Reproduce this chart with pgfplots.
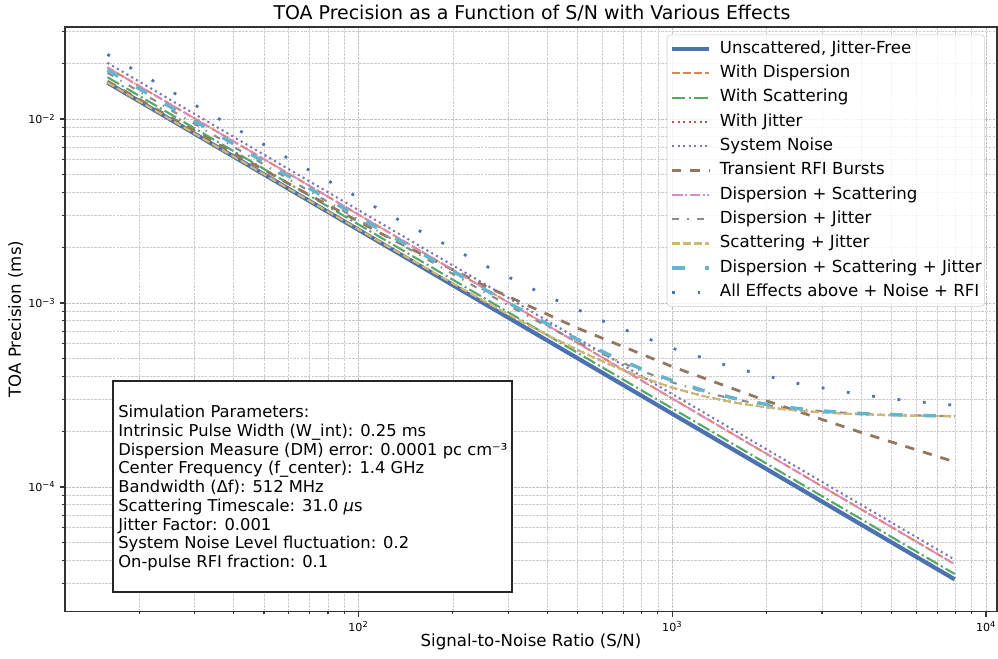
\documentclass[border=0pt]{standalone}
\usepackage{fontspec}
\setmainfont{DejaVu Sans}
\usepackage{pgfplots}
\pgfplotsset{compat=1.18}
\definecolor{c0}{HTML}{4C72B0}
\definecolor{c1}{HTML}{DD8452}
\definecolor{c2}{HTML}{55A868}
\definecolor{c3}{HTML}{C44E52}
\definecolor{c4}{HTML}{8172B3}
\definecolor{c5}{HTML}{937860}
\definecolor{c6}{HTML}{DA8BC3}
\definecolor{c7}{HTML}{8C8C8C}
\definecolor{c8}{HTML}{CCB974}
\definecolor{c9}{HTML}{64B5CD}
\begin{document}
\begin{tikzpicture}
\useasboundingbox (-46.8bp,-34.06bp) rectangle (671.76bp,440.42bp);
\begin{axis}[
 at={(0bp,0bp)}, anchor=south west, scale only axis,
 width=671.04bp, height=420.98bp,
 xmode=log, ymode=log,
 xmin=11.61, xmax=10839, ymin=2.099e-5, ymax=3.1623e-2,
 xtick={100,1000,10000},
 xticklabels={10\textsuperscript{2},10\textsuperscript{3},10\textsuperscript{4}},
 ytick={1e-4,1e-3,1e-2},
 yticklabels={10\textsuperscript{−4},10\textsuperscript{−3},10\textsuperscript{−2}},
 minor xtick={20,30,40,50,60,70,80,90,200,300,400,500,600,700,800,900,2000,3000,4000,5000,6000,7000,8000,9000},
 minor ytick={3e-5,4e-5,5e-5,6e-5,7e-5,8e-5,9e-5,2e-4,3e-4,4e-4,5e-4,6e-4,7e-4,8e-4,9e-4,2e-3,3e-3,4e-3,5e-3,6e-3,7e-3,8e-3,9e-3,2e-2,3e-2},
 grid=both,
 major grid style={black!25, line width=0.5bp, dash pattern=on 1.85bp off 0.8bp},
 minor grid style={black!20, line width=0.5bp, dash pattern=on 1.85bp off 0.8bp},
 tick align=outside, tick pos=left,
 major tick length=3.5bp, minor tick length=2bp,
 every tick/.style={black!80, line width=0.8bp},
 axis line style={black!80, line width=1bp},
 tick label style={font=\fontsize{8}{9.6}\selectfont},
 legend cell align=left,
 legend image code/.code={\draw[#1] (0bp,0bp) -- (26.6bp,0bp);},
 legend style={at={(0.987,0.987)}, anchor=north east, draw=black!20, fill=white, fill opacity=0.8, text opacity=1, rounded corners=2.5bp, font=\fontsize{12}{14}\selectfont, row sep=6.1bp, column sep=6.3bp, inner xsep=2.2bp, inner ysep=4.5bp, nodes={inner sep=0pt, text height=8.8bp, text depth=2.6bp, anchor=west}},
]
\addplot[c0, line width=3bp] coordinates {(15.849,0.015773) (7943.3,3.1473e-5)};
\addlegendentry{Unscattered, Jitter-Free}
\addplot[c1, line width=1.5bp, dash pattern=on 5.55bp off 2.4bp] coordinates {(15.849,0.019085) (7943.3,3.8082e-5)};
\addlegendentry{With Dispersion}
\addplot[c2, line width=1.5bp, dash pattern=on 9.6bp off 2.4bp on 1.5bp off 2.4bp] coordinates {(15.849,0.016877) (7943.3,3.3676e-5)};
\addlegendentry{With Scattering}
\addplot[c3, line width=1.5bp, dash pattern=on 1.5bp off 2.475bp] coordinates {
(15.849,0.015775) (31.623,7.9093e-3) (63.096,3.9695e-3) (125.89,2.0002e-3)
(251.19,1.0238e-3) (316.23,8.262e-4) (398.11,6.7227e-4) (501.19,5.5355e-4)
(630.96,4.6324e-4) (794.33,3.9580e-4) (1000,3.4655e-4) (1258.9,3.1150e-4)
(1584.9,2.8720e-4) (1995.3,2.7074e-4) (2511.9,2.5982e-4) (3162.3,2.5269e-4)
(3981.1,2.4808e-4) (5623.4,2.4408e-4) (7943.3,2.4206e-4)};
\addlegendentry{With Jitter}
\addplot[c4, line width=1.5bp, dash pattern=on 1.5bp off 2.475bp] coordinates {(15.849,0.020189) (7943.3,4.0285e-5)};
\addlegendentry{System Noise}
\addplot[c5, line width=2bp, dash pattern=on 6.7bp off 6.5bp] coordinates {
(15.849,0.016053) (31.623,8.1828e-3) (63.096,4.2348e-3) (125.89,2.2502e-3)
(251.19,1.2457e-3) (501.19,7.2812e-4) (1000,4.5111e-4) (1995.3,2.9388e-4)
(3981.1,1.9840e-4) (7943.3,1.3690e-4)};
\addlegendentry{Transient RFI Bursts}
\addplot[c6, line width=1.2bp, dash pattern=on 7.7bp off 1.9bp on 1.2bp off 1.9bp] coordinates {(15.849,0.019085) (7943.3,3.8082e-5)};
\addlegendentry{Dispersion + Scattering}
\addplot[c7, line width=1.5bp, dash pattern=on 4.8bp off 6bp on 1bp off 6bp] coordinates {
(15.849,0.017825) (31.623,8.9367e-3) (63.096,4.4838e-3) (125.89,2.2567e-3)
(251.19,1.1500e-3) (316.23,9.2502e-4) (398.11,7.4910e-4) (501.19,6.1263e-4)
(630.96,5.0800e-4) (794.33,4.2905e-4) (1000,3.7068e-4) (1258.9,3.2856e-4)
(1584.9,2.9895e-4) (1995.3,2.7865e-4) (2511.9,2.6505e-4) (3162.3,2.5609e-4)
(3981.1,2.5027e-4) (5623.4,2.4520e-4) (7943.3,2.4262e-4)};
\addlegendentry{Dispersion + Jitter}
\addplot[c8, line width=1.5bp, dash pattern=on 5.55bp off 2.4bp] coordinates {
(15.849,0.015775) (31.623,7.9093e-3) (63.096,3.9695e-3) (125.89,2.0002e-3)
(251.19,1.0238e-3) (316.23,8.262e-4) (398.11,6.7227e-4) (501.19,5.5355e-4)
(630.96,4.6324e-4) (794.33,3.9580e-4) (1000,3.4655e-4) (1258.9,3.1150e-4)
(1584.9,2.8720e-4) (1995.3,2.7074e-4) (2511.9,2.5982e-4) (3162.3,2.5269e-4)
(3981.1,2.4808e-4) (5623.4,2.4408e-4) (7943.3,2.4206e-4)};
\addlegendentry{Scattering + Jitter}
\addplot[c9, line width=2.5bp, dash pattern=on 9bp off 15bp] coordinates {
(15.849,0.018456) (31.623,9.2528e-3) (63.096,4.6419e-3) (125.89,2.3358e-3)
(251.19,1.1889e-3) (316.23,9.5559e-4) (398.11,7.7294e-4) (501.19,6.3104e-4)
(630.96,5.2202e-4) (794.33,4.3954e-4) (1000,3.7836e-4) (1258.9,3.3404e-4)
(1584.9,3.0276e-4) (1995.3,2.8123e-4) (2511.9,2.6676e-4) (3162.3,2.5721e-4)
(3981.1,2.5099e-4) (5623.4,2.4557e-4) (7943.3,2.4281e-4)};
\addlegendentry{Dispersion + Scattering + Jitter}
\addplot[c0, line width=2bp, dash pattern=on 2bp off 16.4bp] coordinates {
(15.849,0.022440) (31.623,0.011348) (63.096,5.7882e-3) (125.89,3.0029e-3)
(251.19,1.6088e-3) (398.11,1.0935e-3) (630.96,7.7018e-4) (1000,5.6821e-4)
(1584.9,4.4276e-4) (2511.9,3.6528e-4) (3981.1,3.1758e-4) (5623.4,2.9428e-4)
(7943.3,2.7807e-4)};
\addlegendentry{All Effects above + Noise + RFI}
\end{axis}
\node[font=\fontsize{13.7}{16}\selectfont] at (336.2bp,431.1bp) {TOA Precision as a Function of S/N with Various Effects};
\node[font=\fontsize{12}{14}\selectfont] at (335.5bp,-21.5bp) {Signal-to-Noise Ratio (S/N)};
\node[font=\fontsize{12}{14}\selectfont, rotate=90] at (-35.5bp,210.7bp) {TOA Precision (ms)};
\draw[black!85, line width=1bp, fill=white] (34.56bp,14.18bp) rectangle (321.84bp,166.1bp);
\begin{scope}[every node/.style={anchor=base west, inner sep=0pt, font=\fontsize{11.8}{13.5}\selectfont}]
\node at (38.2bp,139.8bp) {Simulation Parameters:};
\node at (38.2bp,126.3bp) {Intrinsic Pulse Width (W\_int): 0.25 ms};
\node at (38.2bp,112.8bp) {Dispersion Measure (DM) error: 0.0001 pc cm⁻³};
\node at (38.2bp,99.3bp) {Center Frequency (f\_center): 1.4 GHz};
\node at (38.2bp,85.8bp) {Bandwidth (Δf): 512 MHz};
\node at (38.2bp,72.3bp) {Scattering Timescale: 31.0 {\itshape μ}s};
\node at (38.2bp,58.8bp) {Jitter Factor: 0.001};
\node at (38.2bp,45.3bp) {System Noise Level fluctuation: 0.2};
\node at (38.2bp,31.8bp) {On-pulse RFI fraction: 0.1};
\end{scope}
\end{tikzpicture}
\end{document}
